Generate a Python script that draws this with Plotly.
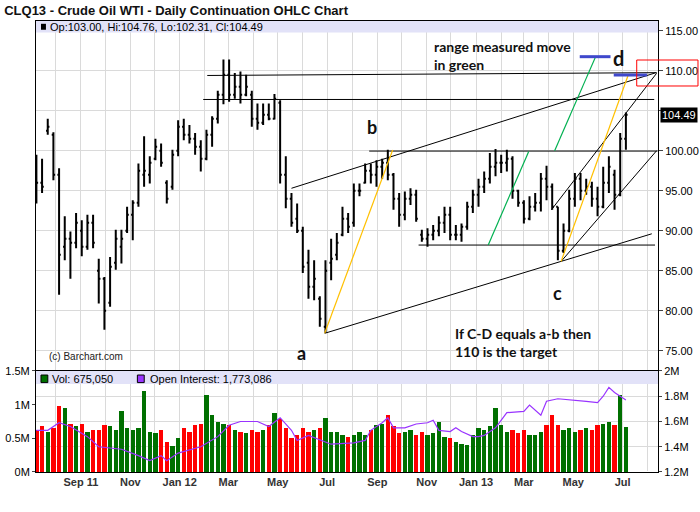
import plotly.graph_objects as go
from plotly.subplots import make_subplots
import pandas as pd

# weekly bars (one bar per week, Friday dates)
first_week = "2011-07-08"
opens = [97, 96, 102.5, 102, 97, 88, 89, 88.5, 90, 88, 91, 85, 84, 81, 86, 88, 90, 92, 93.5, 97,
         97, 99, 100, 96, 95.5, 100, 103, 102, 101.5, 100.5, 99, 102, 104, 107, 109.5, 107, 108, 107, 107, 104,
         103.5, 104.5, 104, 106, 97, 94, 91.5, 90, 86, 83, 81.5, 78, 86, 87, 89.5, 91.5, 91, 95, 96, 97.5,
         97, 98, 98.5, 97, 94, 92, 94, 94.5, 89.5, 89, 89.5, 90, 91, 92, 89.5, 89.5, 90.5, 93, 94.5, 95.5,
         96.5, 98, 98.5, 98.5, 99, 95, 93.5, 91.5, 93, 93.5, 96.5, 95.5, 93, 87.5, 90, 94, 96.5, 95, 95.5, 94,
         93, 96, 97, 94.5, 101.5]
highs = [99.5, 99.0, 104.0, 102.3, 97.8, 91.8, 89.9, 92.2, 91.3, 92.0, 92.0, 86.5, 84.2, 86.7, 90.1, 90.1, 93.0, 93.8, 98.4, 101.8,
         99.3, 101.5, 100.9, 96.3, 100.1, 103.8, 104.0, 103.2, 102.2, 101.3, 102.6, 104.3, 107.5, 111.4, 111.4, 109.7, 109.9, 109.5, 107.5, 105.9,
         105.9, 105.9, 107.1, 106.3, 99.3, 94.7, 93.4, 90.5, 87.6, 86.3, 81.8, 86.3, 89.0, 89.7, 93.0, 92.2, 95.9, 95.9, 98.4, 98.4,
         98.8, 99.0, 100.1, 97.2, 94.7, 94.9, 95.3, 95.1, 90.1, 90.3, 90.7, 91.8, 93.0, 93.0, 90.7, 90.9, 93.6, 95.1, 96.5, 97.4,
         99.7, 100.2, 99.5, 100.1, 99.3, 95.1, 93.8, 94.3, 94.7, 97.2, 98.1, 95.9, 93.0, 90.9, 95.1, 97.2, 97.2, 96.5, 96.1, 95.5,
         98.0, 99.3, 97.6, 102.2, 104.76]
lows = [93.4, 94.7, 102.0, 96.3, 82.0, 86.3, 84.0, 87.8, 86.8, 87.6, 87.8, 80.9, 77.6, 80.5, 85.1, 85.9, 89.7, 88.8, 93.0, 95.5,
        95.9, 98.8, 98.0, 93.4, 95.1, 99.3, 101.3, 100.9, 99.5, 97.4, 98.8, 100.5, 103.4, 105.8, 106.1, 106.5, 105.9, 106.8, 103.0, 102.6,
        103.2, 103.8, 103.9, 95.9, 92.8, 90.5, 89.7, 84.7, 81.5, 81.3, 78.0, 77.2, 83.8, 86.3, 89.3, 89.7, 90.5, 94.3, 95.9, 95.9,
        95.5, 96.5, 96.3, 92.6, 90.5, 91.3, 93.2, 91.1, 88.6, 88.0, 88.8, 89.3, 89.7, 88.8, 88.8, 88.6, 90.1, 92.2, 93.0, 94.7,
        95.9, 96.8, 97.2, 97.4, 94.0, 93.0, 90.9, 91.3, 92.4, 92.4, 93.8, 92.6, 86.3, 87.2, 89.8, 93.0, 93.8, 94.5, 93.0, 91.8,
        92.8, 94.7, 92.6, 94.3, 100.1]
closes = [96, 95.5, 103, 97, 87, 89, 88.5, 91, 88, 91, 88.5, 84, 80, 85.5, 89, 89, 92, 93.5, 97.5, 97.5,
          98.5, 100.5, 98.5, 94, 99.5, 103, 102, 101.5, 100.5, 99, 102, 104, 107, 109.5, 107, 108, 107, 108, 104, 103.5,
          104.5, 104, 106.5, 97, 94, 91, 90, 85.5, 83, 84, 79, 85, 86.5, 88.5, 91.5, 90.5, 95, 95, 97.5, 97,
          98, 98.5, 97, 94, 92, 94, 94.5, 91.5, 89, 89.5, 90, 91, 92, 89.5, 89.5, 90.5, 93, 94.5, 95.5, 96.5,
          98, 98.5, 98.5, 99, 95, 93.5, 91.5, 93, 93.5, 96.5, 95.5, 93, 87.5, 90, 94, 96.5, 95, 95.5, 94, 93,
          96, 98, 94.5, 101.5, 104.49]
# typical daily volume in each week, millions of contracts
volume_m = [0.62, 0.68, 0.6, 0.66, 0.98, 0.95, 0.72, 0.68, 0.72, 0.6, 0.62, 0.62, 0.7, 0.68, 0.62, 0.9, 0.65, 0.62, 0.65, 1.2,
            0.6, 0.58, 0.62, 0.45, 0.38, 0.5, 0.65, 0.6, 0.7, 0.72, 1.15, 0.85, 0.75, 0.72, 0.7, 0.62, 0.6, 0.58, 0.62, 0.6,
            0.62, 0.7, 0.88, 0.78, 0.65, 0.5, 0.55, 0.65, 0.6, 0.62, 0.65, 0.8, 0.6, 0.6, 0.55, 0.52, 0.55, 0.6, 0.55, 0.62,
            0.7, 0.72, 0.85, 0.68, 0.58, 0.6, 0.62, 0.55, 0.6, 0.55, 0.58, 0.75, 0.52, 0.5, 0.45, 0.42, 0.4, 0.55, 0.65, 0.62,
            0.68, 0.95, 0.7, 0.6, 0.62, 0.58, 0.62, 0.55, 0.55, 0.6, 0.7, 0.85, 0.7, 0.62, 0.65, 0.6, 0.62, 0.65, 0.62, 0.7,
            0.72, 0.75, 0.7, 1.15, 0.675]
# open interest, sampled at some of the weeks (millions)
oi_week = [0, 2, 4, 6, 9, 11, 15, 18, 20, 22, 23, 25, 29, 32, 34, 36, 39, 41, 43, 45, 46, 48, 52, 56,
           58, 59, 61, 62, 63, 65, 67, 69, 70, 71, 73, 74, 75, 77, 78, 79, 81, 83, 86, 87, 89, 90, 92,
           95, 97, 99, 100, 101, 102, 103, 104]
oi_m = [1.53, 1.53, 1.59, 1.56, 1.48, 1.40, 1.38, 1.33, 1.29, 1.33, 1.29, 1.35, 1.40, 1.48, 1.57, 1.60, 1.60, 1.56, 1.63, 1.53,
        1.45, 1.49, 1.42, 1.43, 1.45, 1.53, 1.59, 1.63, 1.55, 1.55, 1.58, 1.59, 1.61, 1.53, 1.52, 1.55, 1.52, 1.48, 1.48, 1.49,
        1.55, 1.67, 1.68, 1.73, 1.65, 1.76, 1.78, 1.77, 1.76, 1.75, 1.80, 1.87, 1.83, 1.80, 1.77]

# hand-drawn analysis lines: (date, price) -> (date, price)
black_lines = [
    ("2012-02-04", 109.4, "2013-08-11", 109.75),
    ("2012-01-30", 106.4, "2013-08-09", 106.4),
    ("2012-08-22", 99.95, "2013-08-13", 99.95),
    ("2012-10-22", 88.2, "2013-08-10", 88.2),
    ("2012-05-18", 95.3, "2013-08-12", 109.78),
    ("2012-06-28", 77.17, "2013-08-06", 89.61),
    ("2013-04-16", 86.15, "2013-08-12", 100.0),
    ("2013-04-04", 92.6, "2013-08-12", 109.68),
]
yellow_lines = [
    ("2012-06-28", 77.17, "2012-09-20", 100.09),
    ("2013-04-16", 86.15, "2013-07-08", 109.5),
]
green_lines = [
    ("2013-01-16", 88.2, "2013-03-07", 99.9),
    ("2013-04-08", 99.99, "2013-05-28", 111.6),
]
blue_marks = [
    ("2013-05-09", 111.75, "2013-06-16", 111.75),
    ("2013-06-20", 109.46, "2013-07-31", 109.46),
]
wave_labels = [("a", "2012-05-30", 74.7), ("b", "2012-08-25", 103.0),
               ("c", "2013-04-12", 82.2), ("d", "2013-06-26", 111.6)]

month_ticks = pd.date_range("2011-08-01", "2013-08-01", freq="MS")
month_labels = ["", "Sep 11", "", "Nov", "", "Jan 12", "", "Mar", "", "May", "", "Jul", "",
                "Sep", "", "Nov", "", "Jan 13", "", "Mar", "", "May", "", "Jul", ""]
price_ticks = [75, 80, 85, 90, 95, 100, 105, 110, 115]
# 105 is covered by the last-price tag
price_labels = ["75.00", "80.00", "85.00", "90.00", "95.00", "100.00", "", "110.00", "115.00"]

dates = pd.date_range(first_week, periods=len(closes), freq="7D")
vol_colors = ["#007000" if c >= o else "#ff0000" for o, c in zip(opens, closes)]
oi_dates = [dates[w] for w in oi_week]

fig = make_subplots(rows=2, cols=1, shared_xaxes=True, vertical_spacing=0,
                    row_heights=[0.776, 0.224],
                    specs=[[{}], [{"secondary_y": True}]])

fig.add_trace(go.Ohlc(x=dates, open=opens, high=highs, low=lows, close=closes,
                      increasing_line_color="black", decreasing_line_color="black",
                      line_width=2, tickwidth=0.3, hoverinfo="skip"), row=1, col=1)

fig.add_trace(go.Bar(x=dates, y=volume_m, marker_color=vol_colors, marker_line_width=0,
                     width=5.5 * 86400000), row=2, col=1, secondary_y=False)
fig.add_trace(go.Scatter(x=oi_dates, y=oi_m, mode="lines",
                         line=dict(color="#9933ff", width=1.2)), row=2, col=1, secondary_y=True)

def seg(x0, y0, x1, y1, color, width):
    fig.add_shape(type="line", xref="x", yref="y", x0=x0, y0=y0, x1=x1, y1=y1,
                  line=dict(color=color, width=width))

for l in black_lines:
    seg(*l, "black", 1)
for l in yellow_lines:
    seg(*l, "#ffc000", 1.2)
for l in green_lines:
    seg(*l, "#00b050", 1.2)
for l in blue_marks:
    seg(*l, "#3f48cc", 3)

# header strips
fig.add_shape(type="rect", xref="x domain", yref="y domain", x0=0, x1=1, y0=0.967, y1=1,
              fillcolor="#e2e2f8", line=dict(width=0))
fig.add_shape(type="rect", xref="x2 domain", yref="y2 domain", x0=0, x1=1, y0=0.871, y1=1,
              fillcolor="#e2e2f8", line=dict(width=0))
fig.add_shape(type="rect", xref="x domain", yref="y domain", x0=0.008, x1=0.016, y0=0.975, y1=0.992,
              fillcolor="black", line=dict(width=0))
fig.add_shape(type="rect", xref="x2 domain", yref="y2 domain", x0=0.008, x1=0.019, y0=0.885, y1=0.96,
              fillcolor="#007000", line=dict(color="black", width=1))
fig.add_shape(type="rect", xref="x2 domain", yref="y2 domain", x0=0.163, x1=0.174, y0=0.885, y1=0.96,
              fillcolor="#9933ff", line=dict(color="black", width=1))
# red target box
fig.add_shape(type="rect", xref="paper", yref="paper", x0=0.9658, x1=1.0643, y0=0.8559, y1=0.9135,
              line=dict(color="#ff0000", width=1))

small = dict(family="Liberation Sans, Arial", size=11, color="black")
fig.add_annotation(xref="x domain", yref="y domain", x=0.019, y=0.984, text="Op:103.00, Hi:104.76, Lo:102.31, Cl:104.49",
                   showarrow=False, xanchor="left", yanchor="middle", font=small)
fig.add_annotation(xref="x2 domain", yref="y2 domain", x=0.022, y=0.925, text="Vol: 675,050",
                   showarrow=False, xanchor="left", yanchor="middle", font=small)
fig.add_annotation(xref="x2 domain", yref="y2 domain", x=0.18, y=0.925, text="Open Interest: 1,773,086",
                   showarrow=False, xanchor="left", yanchor="middle", font=small)
fig.add_annotation(xref="x", yref="y", x="2011-07-21", y=74.3, text="(c) Barchart.com",
                   showarrow=False, xanchor="left", yanchor="middle",
                   font=dict(family="Liberation Sans, Arial", size=10, color="#222"))
fig.add_annotation(xref="paper", yref="y", x=1, y=closes[-1], text="104.49", xanchor="left", xshift=2,
                   showarrow=False, bgcolor="black", borderpad=1,
                   font=dict(family="Liberation Sans, Arial", size=11, color="white"))

note_font = dict(family="Lato", size=14, color="#111")
for txt, d, p in wave_labels:
    fig.add_annotation(xref="x", yref="y", x=d, y=p, text="<b>%s</b>" % txt, showarrow=False,
                       font=dict(family="Lato", size=20 if txt == "d" else 18, color="#111"))
fig.add_annotation(xref="x", yref="y", x="2012-11-08", y=111.9, text="<b>range measured move<br>in green</b>",
                   showarrow=False, xanchor="left", yanchor="middle", align="left", font=note_font)
fig.add_annotation(xref="x", yref="y", x="2012-12-03", y=76.0, text="<b>If C-D equals a-b then<br>110 is the target</b>",
                   showarrow=False, xanchor="left", yanchor="middle", align="left", font=note_font)

axis_font = dict(family="Liberation Sans, Arial", size=11, color="black")
grid = "#dadada"
fig.update_xaxes(range=["2011-07-07 12:00", "2013-08-13 16:00"], tickvals=month_ticks, ticktext=month_labels,
                 domain=[0, 1], automargin=False,
                 showgrid=True, gridcolor=grid, showline=True, mirror=True, linecolor="black",
                 rangeslider_visible=False, ticks="")
fig.update_xaxes(tickfont=dict(family="Liberation Sans, Arial", size=11, color="#333", weight="bold"), row=2, col=1)
fig.update_yaxes(range=[72.46, 116.21], tickvals=price_ticks, ticktext=price_labels, side="right", automargin=False,
                 showgrid=True, gridcolor=grid, showline=True, mirror=True, linecolor="black",
                 ticks="outside", ticklen=4, tickfont=axis_font, row=1, col=1)
fig.update_yaxes(range=[0, 1.5], tickvals=[0, 0.5, 1, 1.5], ticktext=["0M", "0.5M", "1M", "1.5M"], automargin=False,
                 showgrid=False, showline=True, linecolor="black", ticks="outside", ticklen=3,
                 tickfont=axis_font, row=2, col=1, secondary_y=False)
fig.update_yaxes(range=[1.2, 2.0], tickvals=[1.2, 1.4, 1.6, 1.8, 2.0], ticktext=["1.2M", "1.4M", "1.6M", "1.8M", "2M"],
                 automargin=False, showgrid=True, gridcolor=grid, showline=True, linecolor="black",
                 ticks="outside", ticklen=3, tickfont=axis_font, row=2, col=1, secondary_y=True)

fig.update_layout(
    width=700, height=512,
    margin=dict(l=36, r=42, t=21, b=40),
    paper_bgcolor="white", plot_bgcolor="white",
    showlegend=False, bargap=0,
    title=dict(text="<b>CLQ13 - Crude Oil WTI - Daily Continuation OHLC Chart</b>", x=0.006, xanchor="left",
               y=0.979, yanchor="middle", font=dict(family="Liberation Sans, Arial", size=13, color="#111")),
)

# the page's default 8px body margin would shift the whole figure
fig.write_html("out.html", config={"displayModeBar": False},
               post_script="document.body.style.margin='0';")
